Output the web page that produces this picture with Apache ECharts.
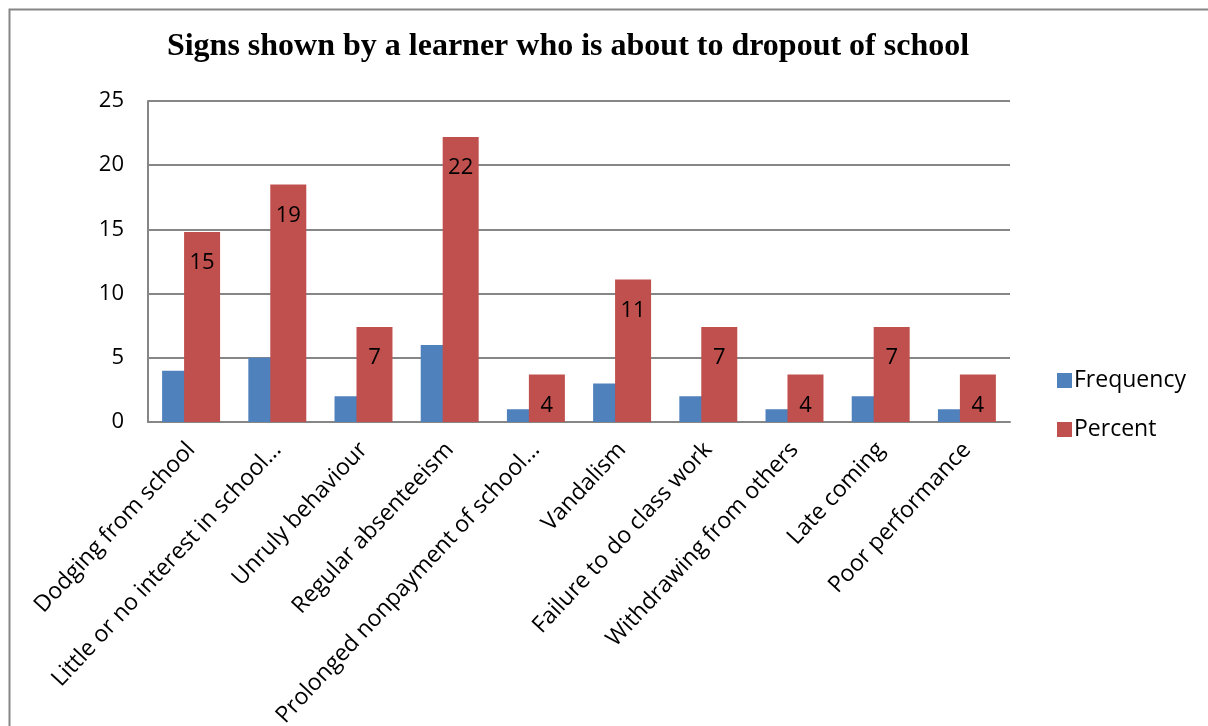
<!DOCTYPE html>
<html>
<head>
<meta charset="utf-8">
<script src="https://cdn.jsdelivr.net/npm/echarts@6/dist/echarts.min.js"></script>
<style>
html,body{margin:0;padding:0;background:#fff;}
#c{width:1208px;height:726px;}
</style>
</head>
<body>
<div id="c"></div>
<script>
const categories = [
  "Dodging from school",
  "Little or no interest in school...",
  "Unruly behaviour",
  "Regular absenteeism",
  "Prolonged nonpayment of school...",
  "Vandalism",
  "Failure to do class work",
  "Withdrawing from others",
  "Late coming",
  "Poor performance"
];
const frequency = [4, 5, 2, 6, 1, 3, 2, 1, 2, 1];
const percent = [14.8, 18.5, 7.4, 22.2, 3.7, 11.1, 7.4, 3.7, 7.4, 3.7];
const yTicks = [0, 5, 10, 15, 20, 25];

const chart = echarts.init(document.getElementById('c'));
const font = '"Open Sans", sans-serif';
chart.setOption({
  animation: false,
  backgroundColor: '#fff',
  title: {
    text: 'Signs shown by a learner who is about to dropout of school',
    left: 563, top: 26, textAlign: 'center',
    textStyle: { fontFamily: '"Liberation Serif", "Times New Roman", serif', fontWeight: 'bold', fontSize: 32, color: '#000' }
  },
  graphic: [{
    type: 'polyline',
    shape: { points: [[9.5, 726], [9.5, 9.5], [1208, 9.5]] },
    style: { stroke: '#868686', lineWidth: 2, fill: null }
  }],
  legend: {
    orient: 'vertical',
    left: 1052, top: 364,
    itemWidth: 15, itemHeight: 15, itemGap: 26,
    icon: 'rect',
    textStyle: { fontFamily: font, fontSize: 23, color: '#000', padding: [0, 0, 0, -3] },
    data: ['Frequency', 'Percent']
  },
  grid: { left: 148, right: 198, top: 101, bottom: 304, containLabel: false, outerBoundsMode: 'none' },
  xAxis: {
    type: 'category',
    data: categories,
    axisLine: { lineStyle: { color: '#868686', width: 2 } },
    axisTick: { show: false },
    axisLabel: { rotate: 47, interval: 0, margin: 24, fontFamily: font, fontSize: 23, color: '#000' }
  },
  yAxis: {
    type: 'value',
    min: yTicks[0], max: yTicks[yTicks.length - 1], interval: 5,
    axisLine: { show: true, lineStyle: { color: '#868686', width: 2 } },
    axisTick: { show: false },
    splitLine: { lineStyle: { color: '#868686', width: 2 } },
    axisLabel: { margin: 24, fontFamily: font, fontSize: 22, color: '#000' }
  },
  series: [
    {
      name: 'Frequency', type: 'bar', data: frequency,
      barWidth: 36, barGap: '-39%',
      itemStyle: { color: '#4F81BD' }
    },
    {
      name: 'Percent', type: 'bar', data: percent,
      barWidth: 36, barGap: '-39%',
      itemStyle: { color: '#C0504D' },
      label: {
        show: true, position: 'insideTop', distance: 20,
        fontFamily: font, fontSize: 22, color: '#000',
        formatter: p => Math.round(p.value)
      }
    }
  ]
});
</script>
</body>
</html>
